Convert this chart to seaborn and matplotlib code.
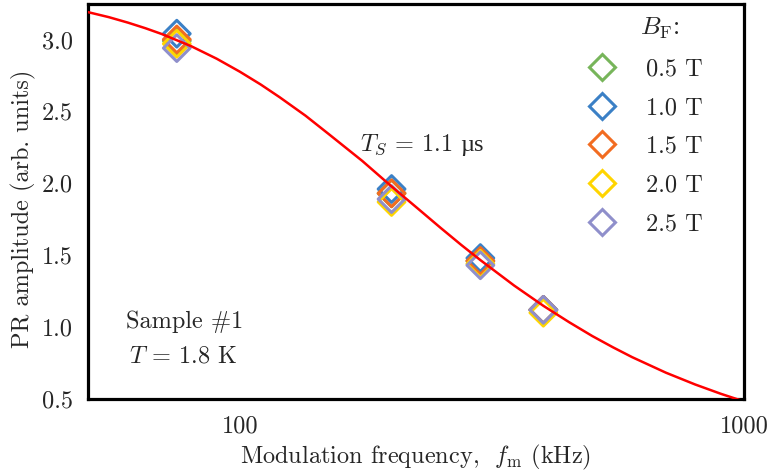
import numpy as np
import pandas as pd
import matplotlib
matplotlib.use("Agg")
import matplotlib.pyplot as plt
from matplotlib.lines import Line2D
from matplotlib.ticker import FixedLocator, NullFormatter, MultipleLocator
import matplotlib.transforms as mtrans
import seaborn as sns

# ---- data ----
freq_khz = [75, 200, 300, 400]
labels = ["0.5 T", "1.0 T", "1.5 T", "2.0 T", "2.5 T"]
colors = ["#77b55a", "#3b80c6", "#f26c21", "#ffd500", "#8f8fcb"]
amp_05 = [2.99, 1.93, 1.46, 1.12]
amp_10 = [3.04, 1.96, 1.48, 1.12]
amp_15 = [3.00, 1.93, 1.46, 1.12]
amp_20 = [2.97, 1.87, 1.44, 1.10]
amp_25 = [2.94, 1.89, 1.43, 1.12]
amps = [amp_05, amp_10, amp_15, amp_20, amp_25]

fit_f = [50, 55, 60, 65, 70, 80, 90, 100, 110, 120, 135, 150, 175, 200, 225,
         250, 275, 300, 350, 400, 450, 500, 550, 600, 700, 800, 900, 1000]
fit_y = [3.19, 3.155, 3.117, 3.078, 3.038, 2.954, 2.866, 2.776, 2.687, 2.598,
         2.470, 2.343, 2.155, 1.978, 1.827, 1.691, 1.571, 1.466, 1.289, 1.148,
         1.034, 0.938, 0.859, 0.791, 0.683, 0.601, 0.536, 0.483]

# ---- style ----
sns.set_style("white")
plt.rcParams["font.family"] = ["cmr10", "DejaVu Serif"]
plt.rcParams["mathtext.fontset"] = "cm"
plt.rcParams["axes.formatter.use_mathtext"] = True
plt.rcParams["axes.unicode_minus"] = False

FS = 17.5

fig = plt.figure(figsize=(7.72, 4.76), dpi=100)
ax = fig.add_axes([88/772, 1-399/476, (744-88)/772, (399-3.5)/476])

fit_df = pd.DataFrame({"f": fit_f, "y": fit_y})
sns.lineplot(data=fit_df, x="f", y="y", color="#ff0000", lw=1.8, ax=ax,
             zorder=5, estimator=None, sort=False)

for lab, col, a in zip(labels, colors, amps):
    df = pd.DataFrame({"f": freq_khz, "y": a})
    sns.scatterplot(data=df, x="f", y="y", marker="D", s=185, ax=ax,
                    color=col, zorder=4, legend=False)
    coll = ax.collections[-1]
    coll.set_facecolor("none")
    coll.set_edgecolor(col)
    coll.set_linewidth(2.2)

ax.set_xscale("log")
ax.set_xlim(50, 1000)
ax.set_ylim(0.5, 3.25)

ax.xaxis.set_major_locator(FixedLocator([100, 1000]))
ax.set_xticklabels(["100", "1000"])
ax.xaxis.set_minor_locator(FixedLocator([60, 70, 80, 90, 200, 300, 400, 500,
                                         600, 700, 800, 900]))
ax.xaxis.set_minor_formatter(NullFormatter())
ax.yaxis.set_minor_locator(MultipleLocator(0.25))
ax.set_yticks([0.5, 1.0, 1.5, 2.0, 2.5, 3.0])
ax.set_yticklabels(["0.5", "1.0", "1.5", "2.0", "2.5", "3.0"])

ax.tick_params(axis="both", which="major", direction="in", length=7, width=2,
               labelsize=FS, top=False, right=False)
ax.tick_params(axis="both", which="minor", direction="in", length=4.5, width=2,
               top=False, right=False)
ax.tick_params(axis="x", pad=12)
ax.tick_params(axis="y", pad=11)
for s in ax.spines.values():
    s.set_linewidth(2.3)
    s.set_color("black")

ax.set_xlabel(r"Modulation frequency,  $f_\mathrm{m}$ (kHz)", fontsize=FS)
ax.set_ylabel("PR amplitude (arb. units)", fontsize=FS)
ax.xaxis.set_label_coords(0.5, -0.11)
ax.yaxis.set_label_coords(-0.079, 0.48)

t1 = ax.text(0.415, 0.627, r"$T_S$ = 1.1", transform=ax.transAxes, fontsize=FS,
             va="baseline", ha="left")
ax.text(0.058, 0.195, "Sample #1", transform=ax.transAxes, fontsize=FS,
        va="center", ha="left")
ax.text(0.062, 0.108, r"$T$ = 1.8 K", transform=ax.transAxes, fontsize=FS,
        va="center", ha="left")

handles = [Line2D([], [], ls="none", marker="D", ms=13, mfc="none", mec=c, mew=2.2)
           for c in colors]
leg = ax.legend(handles, labels, loc="upper left", bbox_to_anchor=(0.747, 0.886),
                frameon=False, fontsize=FS, labelspacing=0.68, handletextpad=1.2,
                handlelength=1.2, borderaxespad=0)
ax.text(0.872, 0.938, r"$B_\mathrm{F}$:", transform=ax.transAxes, fontsize=FS + 1,
        va="center", ha="center")

# place the upright micro sign right after the first part of the T_S text
fig.canvas.draw()
bb = t1.get_window_extent(renderer=fig.canvas.get_renderer())
blend = mtrans.blended_transform_factory(mtrans.IdentityTransform(), ax.transAxes)
ax.text(bb.x1 + 8, 0.627, "µs", transform=blend, fontsize=FS,
        family=["Liberation Serif"], va="baseline", ha="left")

fig.savefig("out.png", dpi=100)
